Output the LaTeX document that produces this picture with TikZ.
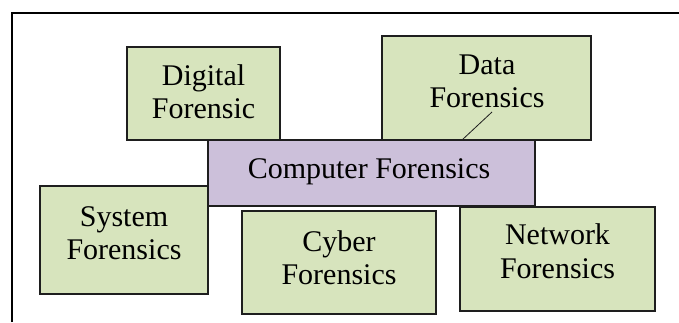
\documentclass[tikz,border=0pt]{standalone}
\usepackage{fontspec}
\setmainfont{Liberation Serif}
\definecolor{leaf}{HTML}{D7E4BD}
\definecolor{lilac}{HTML}{CCC0DA}
\definecolor{edge}{HTML}{1E1E1E}
\begin{document}
\begin{tikzpicture}[x=1pt,y=-1pt,
  box/.style={draw=edge,line width=1.1pt,inner sep=0pt,outer sep=0pt},
  greenbox/.style={box,fill=leaf},
  purplebox/.style={box,fill=lilac},
  lbl/.style={inner sep=0pt,anchor=base,font=\fontsize{30}{33}\selectfont}]
\useasboundingbox (0,0) rectangle (679,322);
% outer frame (left and top sides)
\draw[line width=2.2pt] (12,322) -- (12,13) -- (679,13);

% upper boxes
\node[greenbox,minimum width=153pt,minimum height=93pt] (dig) at (203.5,93.5) {};
\node[greenbox,minimum width=209pt,minimum height=104pt] (dat) at (486.5,88) {};
% central box
\node[purplebox,minimum width=327pt,minimum height=66pt] (cf) at (371.5,173) {};
% lower boxes
\node[greenbox,minimum width=168pt,minimum height=108pt] (sys) at (124,240) {};
\node[greenbox,minimum width=194pt,minimum height=103pt] (cyb) at (339,262.5) {};
\node[greenbox,minimum width=195pt,minimum height=104pt] (net) at (557.5,259) {};

% labels
\node[lbl] (dig1) at (203.5,85) {Digital};
\node[lbl] (dig2) at (203.5,118) {Forensic};
\node[lbl] (dat1) at (487,74) {Data};
\node[lbl] (dat2) at (487,107) {Forensics};
\node[lbl] (cf1) at (369,178) {Computer Forensics};
\node[lbl] (sys1) at (124,226) {System};
\node[lbl] (sys2) at (124,259) {Forensics};
\node[lbl] (cyb1) at (339,251) {Cyber};
\node[lbl] (cyb2) at (339,284) {Forensics};
\node[lbl] (net1) at (557.5,244) {Network};
\node[lbl] (net2) at (557.5,278) {Forensics};

% short leader from the Data Forensics label to the central box
\coordinate (lead) at (492,112);
\coordinate (leadend) at (462,140);
\draw[edge,line width=0.8pt] (lead) -- (leadend);
\end{tikzpicture}
\end{document}
